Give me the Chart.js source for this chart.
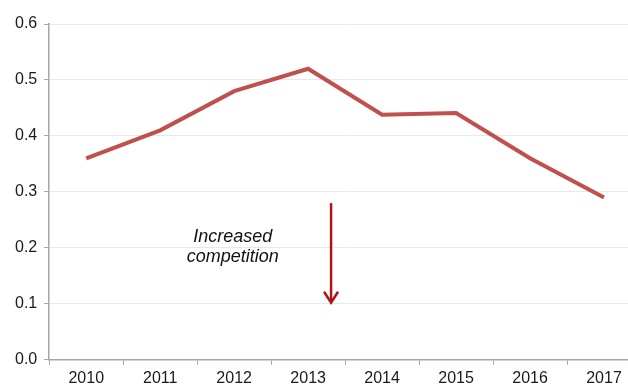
<!DOCTYPE html>
<html>
<head>
<meta charset="utf-8">
<script src="https://cdn.jsdelivr.net/npm/chart.js"></script>
<style>
  html, body { margin: 0; padding: 0; background: #fff; overflow: hidden; width: 628px; height: 387px; }
  canvas { display: block; }
</style>
</head>
<body>
<canvas id="lineChart" width="646" height="387"></canvas>
<script>
const years = ["2010", "2011", "2012", "2013", "2014", "2015", "2016", "2017"];
const values = [0.36, 0.41, 0.48, 0.52, 0.438, 0.441, 0.36, 0.29];
const yTicks = [0, 0.1, 0.2, 0.3, 0.4, 0.5, 0.6];

// note + arrow placed in data units
const noteLines = ["Increased", "competition"];
const noteAt = { x: 1.98, y: [0.219, 0.183] };
const arrowAt = { x: 3.31, from: 0.28, to: 0.102 };

const annotate = {
  id: 'annotate',
  afterDatasetsDraw(chart) {
    const { ctx, scales: { x, y } } = chart;
    ctx.save();
    ctx.fillStyle = '#111';
    ctx.font = 'italic 18px "Liberation Sans", Arial, sans-serif';
    ctx.textAlign = 'center';
    ctx.textBaseline = 'middle';
    noteLines.forEach((t, i) => ctx.fillText(t, x.getPixelForValue(noteAt.x), y.getPixelForValue(noteAt.y[i])));

    const ax = x.getPixelForValue(arrowAt.x);
    const y0 = y.getPixelForValue(arrowAt.from);
    const y1 = y.getPixelForValue(arrowAt.to);
    ctx.strokeStyle = '#b0141a';
    ctx.lineWidth = 2.5;
    ctx.beginPath();
    ctx.moveTo(ax, y0);
    ctx.lineTo(ax, y1 - 1);
    ctx.stroke();
    ctx.beginPath();
    ctx.moveTo(ax - 7, y1 - 11);
    ctx.lineTo(ax, y1);
    ctx.lineTo(ax + 7, y1 - 11);
    ctx.stroke();
    ctx.restore();
  }
};

new Chart(document.getElementById("lineChart").getContext("2d"), {
  type: 'line',
  data: {
    labels: years,
    datasets: [{
      data: values,
      borderColor: '#c0504d',
      borderWidth: 4,
      pointRadius: 0,
      tension: 0,
      fill: false
    }]
  },
  options: {
    responsive: false,
    animation: false,
    layout: { padding: { top: 24, right: 5, left: 8, bottom: -5 } },
    plugins: {
      legend: { display: false },
      tooltip: { enabled: false }
    },
    scales: {
      x: {
        offset: true,
        grid: {
          offset: true,
          drawOnChartArea: false,
          drawTicks: true,
          tickLength: 5,
          color: '#a6a6a6'
        },
        border: { color: '#a6a6a6', width: 1.5 },
        ticks: {
          color: '#1a1a1a',
          padding: 4,
          font: { family: '"Liberation Sans", Arial, sans-serif', size: 16 }
        }
      },
      y: {
        min: 0,
        max: 0.6,
        afterBuildTicks(axis) { axis.ticks = yTicks.map(v => ({ value: v })); },
        grid: {
          color: '#e8e8e8',
          tickColor: '#a6a6a6',
          tickLength: 5
        },
        border: { color: '#a6a6a6', width: 1.5 },
        ticks: {
          color: '#1a1a1a',
          padding: 7,
          callback: v => v.toFixed(1),
          font: { family: '"Liberation Sans", Arial, sans-serif', size: 16 }
        }
      }
    }
  },
  plugins: [annotate]
});
</script>
</body>
</html>
